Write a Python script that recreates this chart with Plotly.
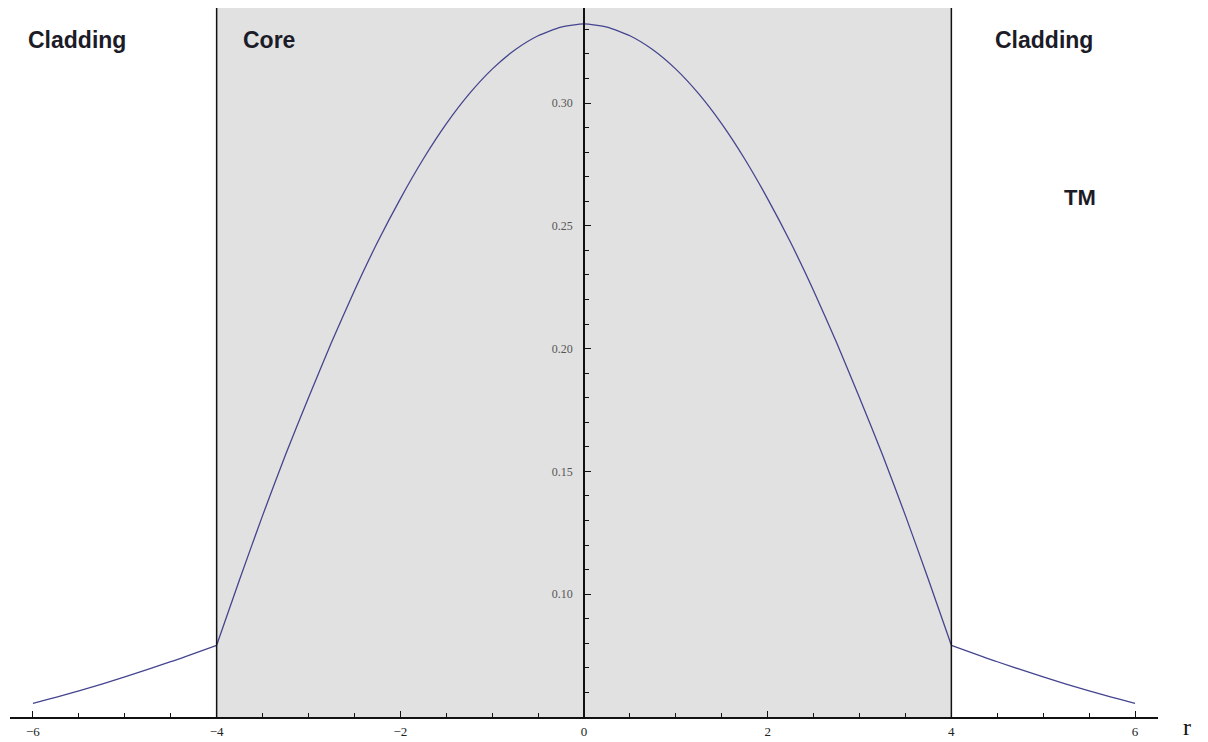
import plotly.graph_objects as go

# Radial field profile of the guided TM mode across core and cladding
r_vals = [-6.0, -5.5, -5.0, -4.5,
          -4.0, -3.75, -3.5, -3.25, -3.0, -2.75, -2.5, -2.25, -2.0, -1.75, -1.5, -1.25,
          -1.0, -0.75, -0.5, -0.25, 0.0, 0.25, 0.5, 0.75, 1.0, 1.25, 1.5, 1.75,
          2.0, 2.25, 2.5, 2.75, 3.0, 3.25, 3.5, 3.75, 4.0,
          4.5, 5.0, 5.5, 6.0]
field_vals = [0.0555, 0.0606, 0.0663, 0.0725,
              0.0792, 0.1060, 0.1320, 0.1568, 0.1800, 0.2025, 0.2236, 0.2432, 0.2610, 0.2772,
              0.2915, 0.3037, 0.3138, 0.3217, 0.3274, 0.3309, 0.3322, 0.3309, 0.3274, 0.3217,
              0.3138, 0.3037, 0.2915, 0.2772, 0.2610, 0.2432, 0.2236, 0.2025, 0.1800, 0.1568,
              0.1320, 0.1060, 0.0792,
              0.0725, 0.0663, 0.0606, 0.0555]

x_ticks = [-6, -4, -2, 0, 2, 4, 6]
y_ticks = [0.10, 0.15, 0.20, 0.25, 0.30]
core_edges = [-4, 4]
x_range = [-6.25, 6.25]
y_range = [0.05, 0.3387]

fig = go.Figure()

# shaded core region
fig.add_shape(type="rect", xref="x", yref="paper",
              x0=core_edges[0], x1=core_edges[1], y0=0, y1=1,
              fillcolor="#e1e1e1", line=dict(width=0), layer="below")
for edge in core_edges:
    fig.add_shape(type="line", xref="x", yref="paper",
                  x0=edge, x1=edge, y0=0, y1=1,
                  line=dict(color="#111111", width=1.5), layer="above")

# draw cladding / core / cladding pieces separately so the kink at the
# interfaces stays sharp while each piece is smoothed
i_left = r_vals.index(core_edges[0])
i_right = r_vals.index(core_edges[1])
segments = [(0, i_left + 1), (i_left, i_right + 1), (i_right, len(r_vals))]
for a, b in segments:
    fig.add_trace(go.Scatter(x=r_vals[a:b], y=field_vals[a:b], mode="lines",
                             line=dict(color="#45458f", width=1.3,
                                       shape="spline", smoothing=0.6),
                             showlegend=False, hoverinfo="skip"))

tick_font_x = dict(family="Liberation Serif", size=13, color="#222222")
tick_font_y = dict(family="Liberation Serif", size=12, color="#555555")

fig.update_xaxes(range=x_range, tickvals=x_ticks, automargin=False,
                 showline=True, linecolor="#111111", linewidth=2,
                 ticks="inside", ticklen=6, tickwidth=1.3, tickcolor="#111111",
                 minor=dict(dtick=0.5, tick0=0, ticks="inside", ticklen=4,
                            tickwidth=1.2, tickcolor="#111111"),
                 showgrid=False, zeroline=False, tickfont=tick_font_x,
                 ticklabelstandoff=1)
fig.update_yaxes(range=y_range, tickvals=y_ticks, tickformat=".2f", automargin=False,
                 anchor="free", position=0.5, side="left",
                 showline=True, linecolor="#111111", linewidth=1.5,
                 ticks="inside", ticklen=6, tickwidth=1.2, tickcolor="#111111",
                 minor=dict(dtick=0.01, tick0=0, ticks="inside", ticklen=4,
                            tickwidth=1.1, tickcolor="#111111"),
                 showgrid=False, zeroline=False, tickfont=tick_font_y,
                 ticklabelstandoff=8)

label_font = dict(family="Liberation Sans", size=23, color="#1c1c28")
tm_font = dict(family="Liberation Sans", size=22, color="#1c1c28")
fig.add_annotation(x=-5.52, y=0.3257, xref="x", yref="y", text="<b>Cladding</b>",
                   showarrow=False, font=label_font, xanchor="center", yanchor="middle")
fig.add_annotation(x=-3.73, y=0.3257, xref="x", yref="y", text="<b>Core</b>",
                   showarrow=False, font=label_font, xanchor="left", yanchor="middle")
fig.add_annotation(x=5.01, y=0.3257, xref="x", yref="y", text="<b>Cladding</b>",
                   showarrow=False, font=label_font, xanchor="center", yanchor="middle")
fig.add_annotation(x=5.40, y=0.2617, xref="x", yref="y", text="<b>TM</b>",
                   showarrow=False, font=tm_font, xanchor="center", yanchor="middle")
fig.add_annotation(x=1.025, y=0, xref="paper", yref="paper", text="r",
                   showarrow=False, yshift=-10, xanchor="center", yanchor="middle",
                   borderpad=0,
                   font=dict(family="Liberation Serif", size=24, color="#111111"))

fig.update_layout(width=1208, height=742,
                  margin=dict(l=10, r=50, t=8, b=25),
                  plot_bgcolor="white", paper_bgcolor="white")

fig.write_html("out.html")
